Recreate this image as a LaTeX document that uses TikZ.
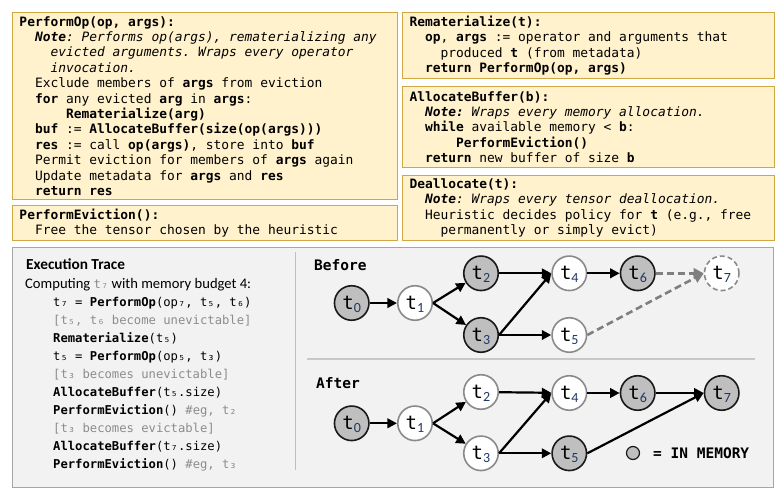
\documentclass[tikz,border=0pt]{standalone}
\usepackage{fontspec}
\setmonofont{DejaVu Sans Mono}[BoldFont={DejaVu Sans Mono Bold},ItalicFont={DejaVu Sans Mono Oblique},BoldItalicFont={DejaVu Sans Mono Bold Oblique}]
\newfontfamily\carl{Carlito}
\usetikzlibrary{arrows.meta}
\definecolor{boxfill}{HTML}{FFF2CC}
\definecolor{boxdraw}{HTML}{CFA844}
\definecolor{panelfill}{HTML}{F2F2F2}
\definecolor{paneldraw}{HTML}{A6A6A6}
\definecolor{sepline}{HTML}{C8C8C8}
\definecolor{tracegrey}{HTML}{8C8C8C}
\definecolor{memfill}{HTML}{BFBFBF}
\definecolor{nomemdraw}{HTML}{8A8A8A}
\definecolor{subc}{HTML}{1F3864}
\definecolor{dashgrey}{HTML}{7F7F7F}
\newcommand\cind[1]{\hspace*{#1\fontcharwd\font`0}}
\newcommand\fixsp{\spaceskip=0pt\xspaceskip=0pt\relax}
\newcommand\tn[1]{t\raisebox{-3.5pt}{\carl\fontsize{14}{14}\selectfont\color{subc}#1}}
\begin{document}
\begin{tikzpicture}[x=1pt,y=-1pt,
  codebox/.style={draw=boxdraw, fill=boxfill, line width=1pt, anchor=north west,
    inner xsep=7pt, inner ysep=0pt, align=left,
    font=\ttfamily\fontsize{12.9}{15.4}\selectfont},
  mem/.style={circle, draw=black!90, fill=memfill, line width=1.6pt, minimum size=34.5pt, inner sep=0pt,
    text height=12pt, text depth=0pt,
    font=\ttfamily\fontsize{19}{19}\selectfont},
  nomem/.style={mem, draw=nomemdraw, fill=white},
  ghost/.style={nomem, dash pattern=on 5pt off 3pt},
  conn/.style={line width=2.2pt, black, -{Triangle[length=9.5pt,width=9.5pt]}},
  dconn/.style={line width=2.6pt, dashgrey, dash pattern=on 7pt off 4pt, -{Triangle[length=10pt,width=10pt]}},
  lbl/.style={inner sep=0pt, font=\ttfamily\bfseries\fontsize{14.5}{14.5}\selectfont},
  trace/.style={inner sep=0pt, anchor=north west, align=left, font=\ttfamily\fontsize{12.2}{18}\selectfont}
]
\useasboundingbox (0,0) rectangle (784,489);

% ---------- code boxes ----------
\node[codebox, minimum width=385pt, minimum height=187pt, text width=371pt] (perf) at (12,12) {\fixsp
\textbf{PerformOp(op, args):}\\
\cind{2}\textbf{\textit{Note}}\textit{: Performs op(args), rematerializing any}\\
\cind{4}\textit{evicted arguments. Wraps every operator}\\
\cind{4}\textit{invocation.}\\
\cind{2}Exclude members of \textbf{args} from eviction\\
\cind{2}\textbf{for} any evicted \textbf{arg} in \textbf{args}:\\
\cind{6}\textbf{Rematerialize(arg)}\\
\cind{2}\textbf{buf} := \textbf{AllocateBuffer(size(op(args)))}\\
\cind{2}\textbf{res} := call \textbf{op(args)}, store into \textbf{buf}\\
\cind{2}Permit eviction for members of \textbf{args} again\\
\cind{2}Update metadata for \textbf{args} and \textbf{res}\\
\cind{2}\textbf{return res}};

\node[codebox, minimum width=385pt, minimum height=35pt, text width=371pt] (evict) at (12,205) {\fixsp
\textbf{PerformEviction():}\\
\cind{2}Free the tensor chosen by the heuristic};

\node[codebox, minimum width=372pt, minimum height=66pt, text width=358pt] (remat) at (402,12) {\fixsp
\textbf{Rematerialize(t):}\\
\cind{2}\textbf{op}, \textbf{args} := operator and arguments that\\
\cind{4}produced \textbf{t} (from metadata)\\
\cind{2}\textbf{return PerformOp(op, args)}};

\node[codebox, minimum width=372pt, minimum height=81pt, text width=358pt] (alloc) at (402,86) {\fixsp
\textbf{AllocateBuffer(b):}\\
\cind{2}\textbf{\textit{Note:}}\textit{ Wraps every memory allocation.}\\
\cind{2}\textbf{while} available memory < \textbf{b}:\\
\cind{6}\textbf{PerformEviction()}\\
\cind{2}\textbf{return} new buffer of size \textbf{b}};

\node[codebox, minimum width=372pt, minimum height=65pt, text width=358pt] (dealloc) at (402,175) {\fixsp
\textbf{Deallocate(t):}\\
\cind{2}\textbf{\textit{Note}}\textit{: Wraps every tensor deallocation.}\\
\cind{2}Heuristic decides policy for \textbf{t} (e.g., free\\
\cind{4}permanently or simply evict)};

% ---------- bottom panel ----------
\node[draw=paneldraw, fill=panelfill, line width=1pt, anchor=north west, minimum width=761pt, minimum height=240pt, inner sep=0pt] (panel) at (12,247) {};
\draw[color=black!25, line width=1pt] (295,252) -- (295,470);
\draw[color=sepline, line width=1.3pt] (307,359) -- (755,359);

% ---------- trace ----------
\node[inner sep=0pt, anchor=base west, font=\carl\bfseries\fontsize{15.3}{15.3}\selectfont] (ttitle) at (26,269) {Execution Trace};
\node[inner sep=0pt, anchor=base west, font=\carl\fontsize{14.6}{14.6}\selectfont] (tcomp) at (25,288) {Computing {\ttfamily\fontsize{12.2}{12}\selectfont\color{tracegrey}t₇} with memory budget 4:};
\node[trace] (tlines) at (53,297) {\fixsp
t₇ = \textbf{PerformOp}(op₇, t₅, t₆)\\
{\color{tracegrey}[t₅, t₆ become unevictable]}\\
\textbf{Rematerialize}(t₅)\\
t₅ = \textbf{PerformOp}(op₅, t₃)\\
{\color{tracegrey}[t₃ becomes unevictable]}\\
\textbf{AllocateBuffer}(t₅.size)\\
\textbf{PerformEviction}() {\color{tracegrey}\#eg, t₂}\\
{\color{tracegrey}[t₃ becomes evictable]}\\
\textbf{AllocateBuffer}(t₇.size)\\
\textbf{PerformEviction}() {\color{tracegrey}\#eg, t₃}};

% ---------- Before ----------
\node[lbl, anchor=west] (before) at (314,265) {Before};
\node[mem]   (b0) at (351.7,303) {\tn{0}};
\node[nomem] (b1) at (415,303) {\tn{1}};
\node[mem]   (b2) at (481,273.3) {\tn{2}};
\node[mem]   (b3) at (481,335) {\tn{3}};
\node[nomem] (b4) at (569.3,273.3) {\tn{4}};
\node[nomem] (b5) at (569.3,335) {\tn{5}};
\node[mem]   (b6) at (637.7,273.3) {\tn{6}};
\node[ghost] (b7) at (721.7,273.3) {\tn{7}};
\draw[conn] (b0) -- (b1);
\draw[conn] (b1.east) -- (b2);
\draw[conn] (b1.east) -- (b3);
\draw[conn] (b2) -- (b4);
\draw[conn] (b3.east) -- (b4.west);
\draw[conn] (b3) -- (b5);
\draw[conn] (b4) -- (b6);
\draw[dconn] (b6) -- (b7);
\draw[dconn] (b5.east) -- (b7.west);

% ---------- After ----------
\node[lbl, anchor=west] (after) at (316,383) {After};
\node[mem]   (a0) at (351.7,423.3) {\tn{0}};
\node[nomem] (a1) at (415,423.3) {\tn{1}};
\node[nomem] (a2) at (481,392) {\tn{2}};
\node[nomem] (a3) at (481,453.3) {\tn{3}};
\node[nomem] (a4) at (569.3,393) {\tn{4}};
\node[mem]   (a5) at (569.3,453.3) {\tn{5}};
\node[mem]   (a6) at (637.7,393) {\tn{6}};
\node[mem]   (a7) at (721.7,393) {\tn{7}};
\draw[conn] (a0) -- (a1);
\draw[conn] (a1.east) -- (a2);
\draw[conn] (a1.east) -- (a3);
\draw[conn] (a2) -- (a4);
\draw[conn] (a3.east) -- (a4.west);
\draw[conn] (a3) -- (a5);
\draw[conn] (a4) -- (a6);
\draw[conn] (a6) -- (a7);
\draw[conn] (a5.east) -- (a7.west);

% ---------- legend ----------
\node[mem, minimum size=13pt, line width=1.2pt] (legc) at (633,453) {};
\node[lbl, anchor=west] (legt) at (653,453) {= IN MEMORY};
\end{tikzpicture}
\end{document}
